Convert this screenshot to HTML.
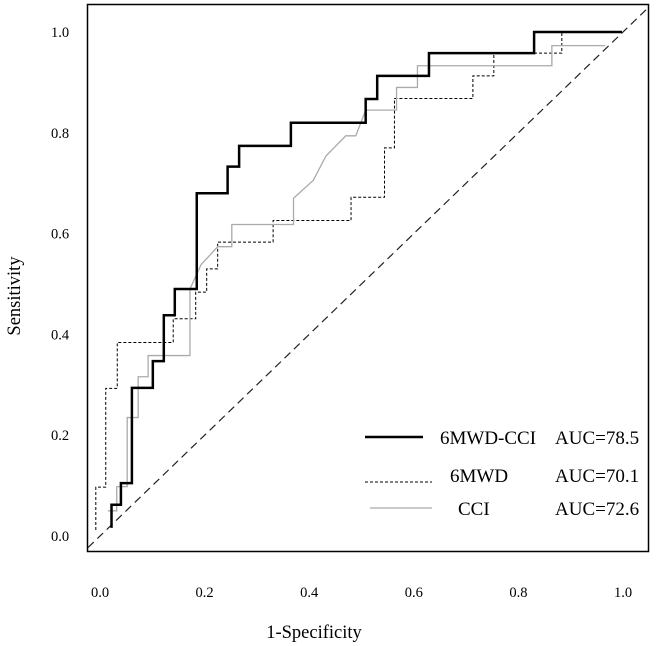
<!DOCTYPE html>
<html><head><meta charset="utf-8"><style>
html,body{margin:0;padding:0;background:#fff;}
svg{display:block;font-family:"Liberation Serif",serif;}
</style></head><body>
<svg id="chart" width="657" height="646" viewBox="0 0 657 646" xmlns="http://www.w3.org/2000/svg">
<rect x="87.5" y="4.5" width="561" height="547" fill="none" stroke="#000" stroke-width="1.5"/>
<g id="ticks"></g>
<g id="curves"></g>
<text x="314" y="638" font-size="18.5" text-anchor="middle">1-Specificity</text>
<text transform="translate(20,296) rotate(-90)" font-size="18.5" text-anchor="middle">Sensitivity</text>
<g>
<line x1="365" y1="437" x2="423" y2="437" stroke="#000" stroke-width="2.5"/>
<text x="440" y="444" font-size="19">6MWD-CCI</text>
<text x="555" y="444" font-size="19">AUC=78.5</text>
<line x1="365" y1="482" x2="432" y2="482" stroke="#000" stroke-width="1" stroke-dasharray="3,2"/>
<text x="450" y="482" font-size="19">6MWD</text>
<text x="555" y="482" font-size="19">AUC=70.1</text>
<line x1="370" y1="508" x2="432" y2="508" stroke="#aaa" stroke-width="1.3"/>
<text x="458" y="515" font-size="19">CCI</text>
<text x="555" y="515" font-size="19">AUC=72.6</text>
</g>
</svg>
<script>
const ticks = [0, 0.2, 0.4, 0.6, 0.8, 1.0];
const tickLabels = ["0.0", "0.2", "0.4", "0.6", "0.8", "1.0"];
const comboFpr = [.022,.022,.040,.040,.061,.061,.101,.101,.122,.122,.143,.143,.185,.185,.244,.244,.266,.266,.365,.365,.508,.508,.530,.530,.629,.629,.830,.830,.998];
const comboTpr = [.016,.062,.062,.105,.105,.294,.294,.347,.347,.438,.438,.490,.490,.680,.680,.733,.733,.774,.774,.820,.820,.867,.867,.913,.913,.958,.958,1.0,1.0];
const mwdFpr = [-.008,-.008,.011,.011,.033,.033,.140,.140,.183,.183,.204,.204,.225,.225,.331,.331,.480,.480,.544,.544,.563,.563,.713,.713,.753,.753,.883,.883,.996];
const mwdTpr = [.012,.097,.097,.293,.293,.384,.384,.431,.431,.484,.484,.530,.530,.583,.583,.626,.626,.672,.672,.770,.770,.868,.868,.913,.913,.958,.958,1.0,1.0];
const cciFpr = [.015,.032,.032,.052,.052,.073,.073,.092,.092,.172,.172,.193,.225,.252,.252,.370,.370,.408,.432,.470,.489,.508,.567,.567,.607,.607,.864,.864,.966];
const cciTpr = [.050,.050,.098,.098,.235,.235,.316,.316,.358,.358,.490,.538,.574,.574,.618,.618,.670,.706,.754,.794,.794,.845,.845,.890,.890,.933,.933,.973,.973];
const refLine = [-0.023, 1.046];

const NS = "http://www.w3.org/2000/svg";
function xs(v){ return 100 + v * 523; }
function ys(v){ return 536 - v * 504; }
const tg = document.getElementById('ticks');
ticks.forEach((t, i) => {
  const tx = document.createElementNS(NS, 'text');
  tx.setAttribute('x', xs(t)); tx.setAttribute('y', 597);
  tx.setAttribute('font-size', '14.5'); tx.setAttribute('text-anchor', 'middle');
  tx.textContent = tickLabels[i];
  
  
  tg.appendChild(tx);
  const ty = document.createElementNS(NS, 'text');
  ty.setAttribute('x', 60); ty.setAttribute('y', ys(t) + 5);
  ty.setAttribute('font-size', '14.5'); ty.setAttribute('text-anchor', 'middle');
  ty.textContent = tickLabels[i];
  
  
  tg.appendChild(ty);
});
const cg = document.getElementById('curves');
const diag = document.createElementNS(NS, 'line');
diag.setAttribute('x1', xs(refLine[0])); diag.setAttribute('y1', ys(refLine[0]));
diag.setAttribute('x2', xs(refLine[1])); diag.setAttribute('y2', ys(refLine[1]));
diag.setAttribute('stroke', '#222'); diag.setAttribute('stroke-width', '1.2');
diag.setAttribute('stroke-dasharray', '8,5');


cg.appendChild(diag);
function curve(fx, ty, stroke, w, dash, name){
  const p = document.createElementNS(NS, 'polyline');
  p.setAttribute('points', fx.map((v, i) => xs(v) + ',' + ys(ty[i])).join(' '));
  p.setAttribute('fill', 'none'); p.setAttribute('stroke', stroke);
  p.setAttribute('stroke-width', w);
  if (dash) p.setAttribute('stroke-dasharray', dash);
  
  
  cg.appendChild(p);
}
curve(mwdFpr, mwdTpr, '#000', 1, '3,2', 'curve-6mwd');
curve(cciFpr, cciTpr, '#aaa', 1.3, null, 'curve-cci');
curve(comboFpr, comboTpr, '#000', 2.5, null, 'curve-6mwd-cci');
</script>
</body></html>
